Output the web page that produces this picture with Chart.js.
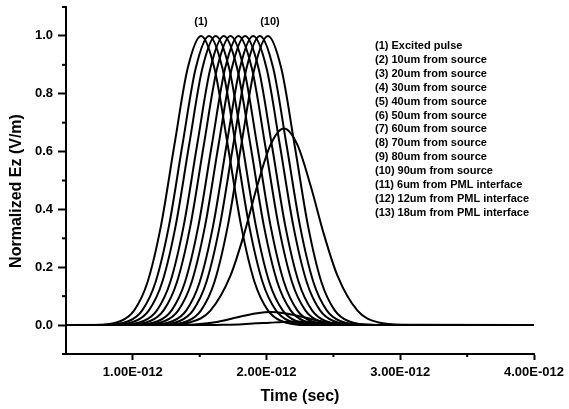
<!DOCTYPE html>
<html>
<head>
<meta charset="utf-8">
<title>Normalized Ez vs time</title>
<script src="https://cdn.jsdelivr.net/npm/chart.js@4.4.1/dist/chart.umd.min.js"></script>
<style>
  html, body { margin: 0; padding: 0; background: #fff; }
  #wrap { width: 569px; height: 409px; }
</style>
</head>
<body>
<div id="wrap"><canvas id="pulseChart" width="569" height="409"></canvas></div>
<script>
// time samples in ps (1 ps = 1E-012 s), one list per probe
var pulseTimes = [
  [0.5, 0.71, 0.91, 1.01, 1.11, 1.21, 1.31, 1.41, 1.51, 1.61, 1.71, 1.81, 1.91, 2.01, 2.11, 2.31, 4.0],
  [0.5, 0.77, 0.97, 1.07, 1.17, 1.27, 1.37, 1.47, 1.57, 1.67, 1.77, 1.87, 1.97, 2.07, 2.17, 2.37, 4.0],
  [0.5, 0.82, 1.02, 1.12, 1.22, 1.32, 1.42, 1.52, 1.62, 1.72, 1.82, 1.92, 2.02, 2.12, 2.22, 2.42, 4.0],
  [0.5, 0.88, 1.08, 1.18, 1.28, 1.38, 1.48, 1.58, 1.68, 1.78, 1.88, 1.98, 2.08, 2.18, 2.28, 2.48, 4.0],
  [0.5, 0.93, 1.13, 1.23, 1.33, 1.43, 1.53, 1.63, 1.73, 1.83, 1.93, 2.03, 2.13, 2.23, 2.33, 2.53, 4.0],
  [0.5, 0.99, 1.19, 1.29, 1.39, 1.49, 1.59, 1.69, 1.79, 1.89, 1.99, 2.09, 2.19, 2.29, 2.39, 2.59, 4.0],
  [0.5, 1.04, 1.24, 1.34, 1.44, 1.54, 1.64, 1.74, 1.84, 1.94, 2.04, 2.14, 2.24, 2.34, 2.44, 2.64, 4.0],
  [0.5, 1.10, 1.30, 1.40, 1.50, 1.60, 1.70, 1.80, 1.90, 2.00, 2.10, 2.20, 2.30, 2.40, 2.50, 2.70, 4.0],
  [0.5, 1.15, 1.35, 1.45, 1.55, 1.65, 1.75, 1.85, 1.95, 2.05, 2.15, 2.25, 2.35, 2.45, 2.55, 2.75, 4.0],
  [0.5, 1.21, 1.41, 1.51, 1.61, 1.71, 1.81, 1.91, 2.01, 2.11, 2.21, 2.31, 2.41, 2.51, 2.61, 2.81, 4.0],
  [0.5, 1.23, 1.43, 1.58, 1.73, 1.83, 1.93, 2.03, 2.13, 2.23, 2.33, 2.43, 2.53, 2.68, 2.83, 3.03, 4.0],
  [0.5, 1.13, 1.33, 1.48, 1.63, 1.73, 1.83, 1.93, 2.03, 2.13, 2.23, 2.33, 2.43, 2.58, 2.73, 2.93, 4.0],
  [0.5, 1.32, 1.52, 1.67, 1.82, 1.92, 2.02, 2.12, 2.22, 2.32, 2.42, 2.52, 2.62, 2.77, 2.92, 3.12, 4.0]
];

// normalized Ez at those samples
var pulseLevels = [0, 0, 0.014, 0.051, 0.149, 0.343, 0.621, 0.888, 1.0, 0.888, 0.621, 0.343, 0.149, 0.051, 0.014, 0, 0];
var pml6Levels  = [0, 0.001, 0.010, 0.050, 0.171, 0.312, 0.481, 0.624, 0.68, 0.624, 0.481, 0.312, 0.171, 0.050, 0.010, 0.001, 0];
var pml12Levels = [0, 0, 0.001, 0.003, 0.011, 0.021, 0.032, 0.041, 0.045, 0.041, 0.032, 0.021, 0.011, 0.003, 0.001, 0, 0];
var pml18Levels = [0, 0, 0, 0.001, 0.003, 0.006, 0.008, 0.011, 0.012, 0.011, 0.008, 0.006, 0.003, 0.001, 0, 0, 0];

var seriesLevels = [
  pulseLevels, pulseLevels, pulseLevels, pulseLevels, pulseLevels,
  pulseLevels, pulseLevels, pulseLevels, pulseLevels, pulseLevels,
  pml6Levels, pml12Levels, pml18Levels
];

var seriesLabels = [
  "(1) Excited pulse",
  "(2) 10um from source",
  "(3) 20um from source",
  "(4) 30um from source",
  "(5) 40um from source",
  "(6) 50um from source",
  "(7) 60um from source",
  "(8) 70um from source",
  "(9) 80um from source",
  "(10) 90um from source",
  "(11) 6um from PML interface",
  "(12) 12um from PML interface",
  "(13) 18um from PML interface"
];

var timeTicks = [1, 2, 3, 4];
var timeTickLabels = ["1.00E-012", "2.00E-012", "3.00E-012", "4.00E-012"];
var timeMinorTicks = [1.5, 2.5, 3.5];
var ezTicks = [0, 0.2, 0.4, 0.6, 0.8, 1.0];
var ezTickLabels = ["0.0", "0.2", "0.4", "0.6", "0.8", "1.0"];
var ezMinorTicks = [-0.1, 0.1, 0.3, 0.5, 0.7, 0.9, 1.1];

var datasets = seriesLabels.map(function (label, i) {
  return {
    label: label,
    data: pulseTimes[i].map(function (t, k) { return { x: t, y: seriesLevels[i][k] }; }),
    borderColor: "#000",
    borderWidth: 2,
    pointRadius: 0,
    fill: false,
    cubicInterpolationMode: "monotone"
  };
});

var tickFont = { family: "'Liberation Sans', Arial, sans-serif", size: 13, weight: "bold" };

// legend text, peak markers, minor ticks and axis titles
var annotatePlugin = {
  id: "annotate",
  afterDraw: function (chart) {
    var ctx = chart.ctx;
    var xs = chart.scales.x;
    var ys = chart.scales.y;
    ctx.save();
    ctx.strokeStyle = "#000";
    ctx.fillStyle = "#000";
    ctx.lineWidth = 2;

    ezMinorTicks.forEach(function (v) {
      var py = ys.getPixelForValue(v);
      ctx.beginPath();
      ctx.moveTo(xs.left - 4, py);
      ctx.lineTo(xs.left, py);
      ctx.stroke();
    });
    timeMinorTicks.forEach(function (v) {
      var px = xs.getPixelForValue(v);
      ctx.beginPath();
      ctx.moveTo(px, ys.bottom);
      ctx.lineTo(px, ys.bottom + 3);
      ctx.stroke();
    });

    ctx.font = "bold 11px 'Liberation Sans', Arial, sans-serif";
    ctx.textAlign = "left";
    ctx.textBaseline = "middle";
    chart.data.datasets.forEach(function (ds, i) {
      ctx.fillText(ds.label, 375, 46 + i * 13.9);
    });

    // markers over the first and last source pulses
    ctx.textAlign = "center";
    var top = ys.getPixelForValue(1.0) - 14;
    ctx.fillText("(1)", xs.getPixelForValue(pulseTimes[0][8]), top);
    ctx.fillText("(10)", xs.getPixelForValue(pulseTimes[9][8]) + 2, top);

    ctx.font = "bold 16px 'Liberation Sans', Arial, sans-serif";
    ctx.fillText("Time (sec)", (xs.left + xs.right) / 2, 397);
    ctx.translate(17, 191);
    ctx.rotate(-Math.PI / 2);
    ctx.fillText("Normalized Ez (V/m)", 0, 0);
    ctx.restore();
  }
};

new Chart(document.getElementById("pulseChart"), {
  type: "line",
  data: { datasets: datasets },
  options: {
    responsive: false,
    animation: false,
    layout: { padding: { top: 7, right: 35, bottom: 0, left: 0 } },
    plugins: {
      legend: { display: false },
      tooltip: { enabled: false }
    },
    scales: {
      x: {
        type: "linear",
        min: 0.5,
        max: 4.0,
        afterBuildTicks: function (scale) {
          scale.ticks = timeTicks.map(function (v) { return { value: v }; });
        },
        afterFit: function (scale) { scale.height = 55; },
        ticks: {
          autoSkip: false,
          maxRotation: 0,
          padding: 5,
          color: "#000",
          font: tickFont,
          callback: function (v) { return timeTickLabels[timeTicks.indexOf(v)]; }
        },
        grid: { drawOnChartArea: false, tickLength: 6, tickWidth: 2, tickColor: "#000" },
        border: { display: true, color: "#000", width: 2 }
      },
      y: {
        min: -0.1,
        max: 1.1,
        afterBuildTicks: function (scale) {
          scale.ticks = ezTicks.map(function (v) { return { value: v }; });
        },
        afterFit: function (scale) {
          scale.width = 66;
          scale.paddingTop = 0;
          scale.paddingBottom = 0;
        },
        ticks: {
          padding: 5,
          color: "#000",
          font: tickFont,
          callback: function (v) {
            var i = ezTicks.findIndex(function (t) { return Math.abs(t - v) < 1e-9; });
            return ezTickLabels[i];
          }
        },
        grid: { drawOnChartArea: false, tickLength: 8, tickWidth: 2, tickColor: "#000" },
        border: { display: true, color: "#000", width: 2 }
      }
    }
  },
  plugins: [annotatePlugin]
});
</script>
</body>
</html>
